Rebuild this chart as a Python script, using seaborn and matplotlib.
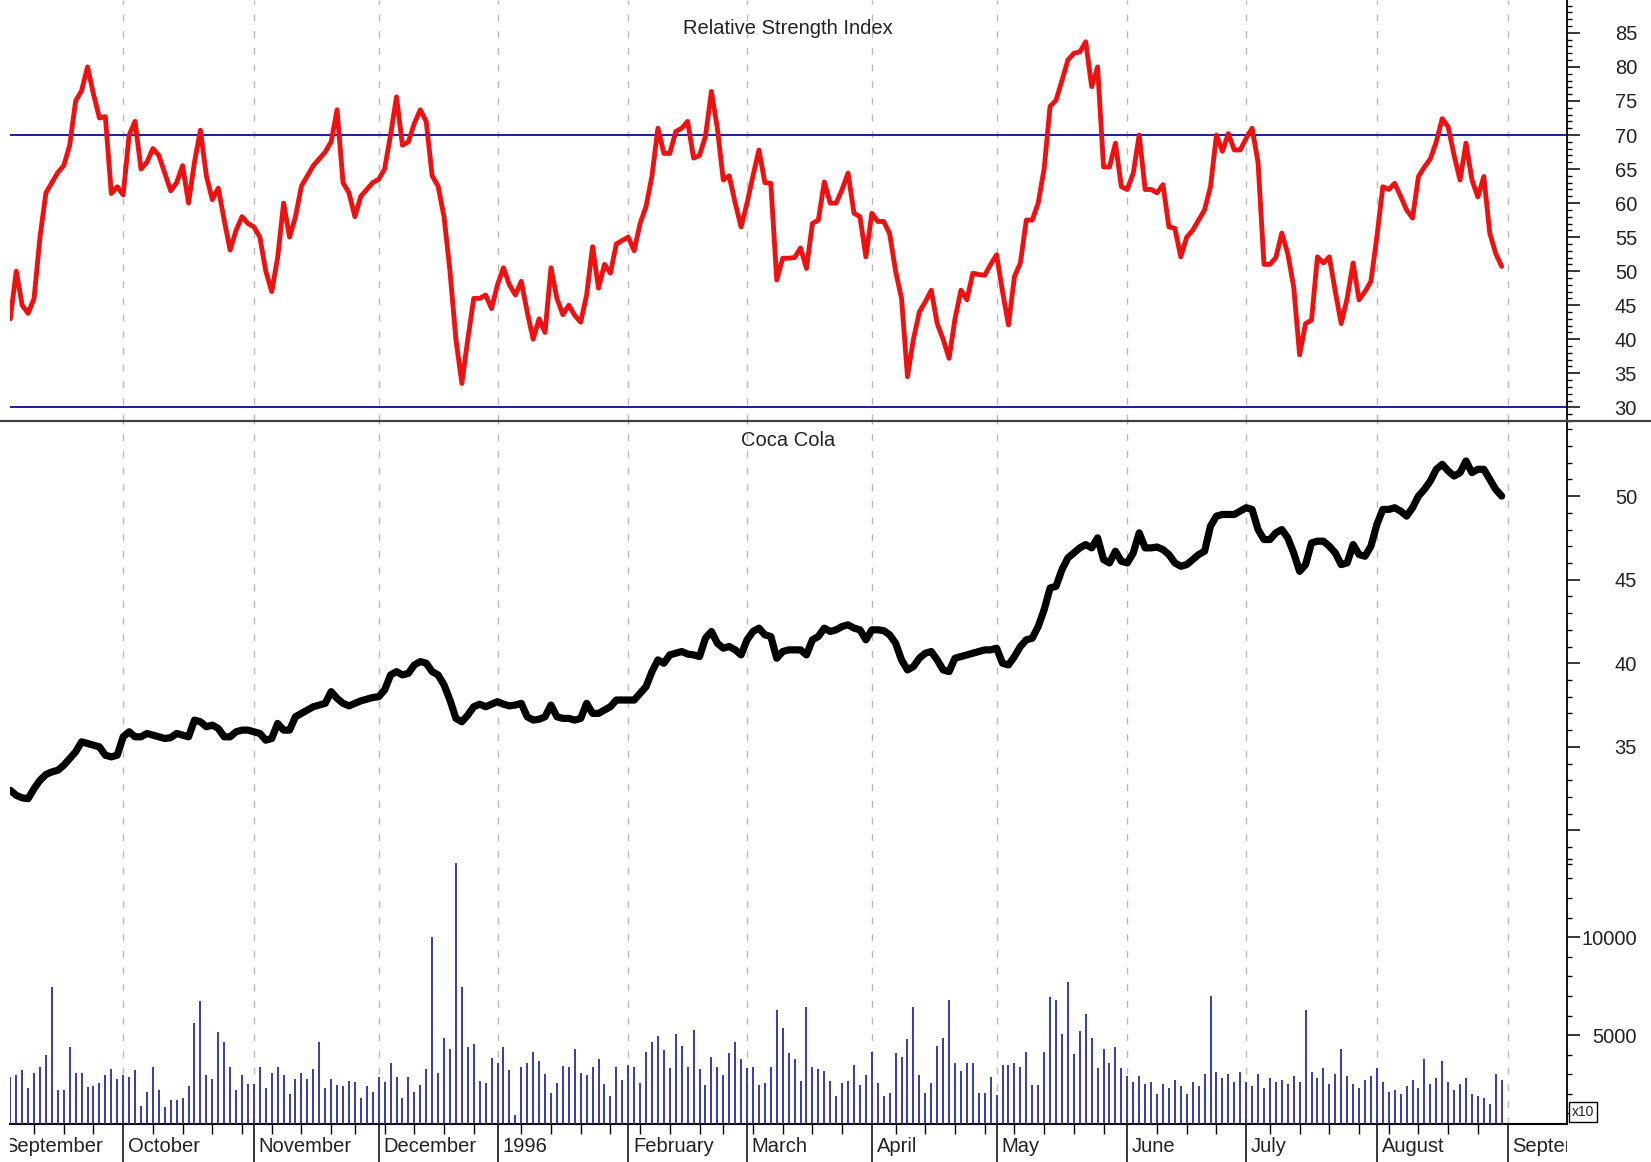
import numpy as np
import pandas as pd
import matplotlib
matplotlib.use("Agg")
import matplotlib.pyplot as plt
import seaborn as sns
from matplotlib.ticker import FixedLocator, FixedFormatter, NullFormatter
from matplotlib.lines import Line2D
from matplotlib.transforms import blended_transform_factory, Bbox, TransformedBbox

sns.set_theme(style="white")
plt.rcParams["font.family"] = ["Liberation Sans", "DejaVu Sans"]

# ---------------- data ----------------
holidays = ["1995-09-04", "1995-11-23", "1995-12-25", "1996-01-01",
            "1996-02-19", "1996-04-05", "1996-05-27", "1996-07-04"]
dates = pd.bdate_range("1995-09-05", "1996-08-30", freq="C", holidays=holidays)

month_labels = ["September", "October", "November", "December", "1996", "February",
                "March", "April", "May", "June", "July", "August", "September"]

rsi = [43, 50, 45, 43.8, 46, 55, 61.5, 63, 64.5, 65.5, 68.5, 75, 76.5, 80, 76, 72.5, 72.7, 61.4, 62.4, 61.2,
       70, 72, 65, 66, 68, 67, 64.4, 61.8, 63, 65.5, 60, 66, 70.7, 64, 60.5, 62.2, 57.5, 53.1, 56, 58,
       57, 56.5, 55, 50, 47, 52, 60, 55, 58, 62.5, 64, 65.5, 66.5, 67.5, 69, 73.7, 63, 61.5, 58, 61,
       62, 63, 63.5, 65, 70, 75.6, 68.5, 69, 71.7, 73.7, 72, 64, 62.5, 58, 50, 40, 33.5, 40, 46, 46,
       46.5, 44.5, 48, 50.5, 48, 46.5, 48.5, 44, 40, 43, 41, 50.5, 46, 43.6, 45, 43.5, 42.5, 46.5, 53.6, 47.5,
       51, 49.7, 54, 54.5, 55, 53, 57, 59.5, 64, 71, 67.3, 67.3, 70.5, 71, 72, 66.6, 67, 69.8, 76.4, 71,
       63.4, 64, 60, 56.5, 60, 64, 67.8, 63, 62.9, 48.7, 51.9, 51.9, 52, 53.4, 50.4, 57, 57.5, 63.1, 60, 60,
       62, 64.4, 58.5, 58, 52.1, 58.5, 57.3, 57.3, 55.5, 50, 46, 34.5, 40, 44, 45.5, 47.2, 42.3, 40, 37.2, 43,
       47.2, 45.8, 49.7, 49.5, 49.4, 51, 52.4, 47, 42.1, 49.2, 51.2, 57.5, 57.5, 60, 65, 74.2, 75.1, 78, 81, 82,
       82.2, 83.7, 77.1, 80, 65.3, 65.3, 68.8, 62.4, 62, 64.4, 70, 62, 62, 61.5, 62.7, 56.5, 56.3, 52.1, 55, 56,
       57.5, 59, 62.4, 70, 67.6, 70.2, 67.8, 67.8, 69.5, 71, 66, 51, 51, 52, 55.6, 52.6, 47.7, 37.7, 42.3, 42.8,
       52.1, 51.2, 52.1, 47, 42.3, 46, 51.2, 45.8, 47, 48.5, 55, 62.4, 62, 62.9, 61, 59, 57.8, 63.9, 65.3, 66.5,
       69, 72.4, 71.2, 67, 63.4, 68.8, 63.4, 60.9, 63.9, 55.6, 52.6, 50.7]

price = [32.4, 32.1, 31.95, 31.9, 32.5, 33.0, 33.35, 33.5, 33.6, 33.9, 34.3, 34.7, 35.3, 35.2, 35.1, 35.0, 34.5, 34.4, 34.5, 35.6,
         35.9, 35.6, 35.6, 35.8, 35.7, 35.6, 35.5, 35.55, 35.8, 35.7, 35.6, 36.6, 36.5, 36.2, 36.3, 36.1, 35.6, 35.6, 35.9, 36.0,
         36.0, 35.9, 35.8, 35.4, 35.5, 36.4, 36.0, 36.0, 36.8, 37.0, 37.2, 37.4, 37.5, 37.6, 38.3, 37.9, 37.6, 37.45, 37.6, 37.75,
         37.85, 37.95, 38.0, 38.4, 39.3, 39.5, 39.3, 39.4, 39.9, 40.1, 40.0, 39.5, 39.3, 38.7, 37.8, 36.7, 36.5, 36.9, 37.4, 37.55,
         37.4, 37.55, 37.7, 37.55, 37.45, 37.5, 37.6, 36.8, 36.6, 36.65, 36.8, 37.5, 36.8, 36.7, 36.7, 36.6, 36.7, 37.6, 37.0, 37.0,
         37.2, 37.4, 37.8, 37.8, 37.8, 37.8, 38.2, 38.6, 39.5, 40.2, 40.0, 40.5, 40.6, 40.7, 40.55, 40.5, 40.4, 41.5, 41.9, 41.2,
         40.9, 41.0, 40.8, 40.5, 41.4, 41.9, 42.1, 41.7, 41.6, 40.3, 40.7, 40.8, 40.8, 40.8, 40.5, 41.4, 41.6, 42.1, 41.9, 42.0,
         42.2, 42.3, 42.1, 42.0, 41.4, 42.0, 42.0, 41.95, 41.7, 41.2, 40.2, 39.6, 39.8, 40.3, 40.6, 40.7, 40.2, 39.6, 39.5, 40.3,
         40.4, 40.5, 40.6, 40.7, 40.8, 40.8, 40.9, 40.0, 39.9, 40.4, 41.0, 41.4, 41.5, 42.2, 43.2, 44.5, 44.6, 45.6, 46.3, 46.6,
         46.9, 47.1, 46.9, 47.5, 46.2, 46.0, 46.7, 46.1, 46.0, 46.6, 47.8, 46.9, 46.9, 46.95, 46.8, 46.5, 46.0, 45.8, 45.9, 46.2,
         46.5, 46.7, 48.2, 48.8, 48.9, 48.9, 48.9, 49.1, 49.3, 49.2, 48.0, 47.4, 47.4, 47.8, 48.0, 47.5, 46.6, 45.5, 45.9, 47.2,
         47.3, 47.3, 47.0, 46.6, 45.9, 46.0, 47.1, 46.5, 46.4, 47.0, 48.3, 49.2, 49.2, 49.3, 49.1, 48.8, 49.3, 50.0, 50.4, 50.9,
         51.6, 51.9, 51.5, 51.2, 51.4, 52.1, 51.4, 51.6, 51.6, 51.0, 50.4, 50.0]

volume = [2877, 2962, 3218, 2281, 3081, 3388, 3984, 7439, 2196, 2196, 4409, 3081, 3081, 2367, 2400, 2571, 2962, 3286, 2775, 2962,
          2843, 3218, 1396, 2111, 3388, 2196, 1311, 1685, 1685, 1805, 2400, 5601, 6759, 2962, 2775, 5176, 4665, 3388, 2196, 2962,
          2503, 2503, 3388, 2281, 3081, 3388, 2962, 1992, 2775, 3081, 2775, 3286, 4665, 2281, 2775, 2469, 2400, 2673, 2605, 1805,
          2400, 2111, 2843, 2605, 3592, 2843, 1805, 2877, 2111, 2469, 3286, 10027, 3081, 4835, 4273, 13807, 7439, 4376, 4545, 2673,
          2571, 3848, 3592, 4376, 3218, 902, 3388, 3592, 4154, 3694, 3000, 2026, 2571, 3421, 3354, 4273, 3081, 2962, 3388, 3762,
          2503, 1890, 3388, 2707, 3456, 3388, 2571, 4154, 4665, 4954, 4239, 3303, 5056, 4443, 3354, 5260, 3252, 2452, 3865, 3388,
          2962, 4069, 4665, 3762, 3303, 3388, 2452, 2571, 3354, 6282, 5346, 4069, 3762, 2673, 6452, 3388, 3252, 3184, 2673, 1890,
          2571, 2673, 3456, 2452, 2962, 4154, 2571, 1890, 2060, 4069, 3865, 4784, 6452, 2962, 2060, 2571, 4443, 4835, 6793, 3558,
          3184, 3558, 3558, 2060, 2060, 2843, 1941, 3456, 3456, 3558, 3354, 4154, 2452, 2452, 4154, 6963, 6793, 5056, 7712, 4035,
          5226, 6060, 4835, 3303, 4300, 3600, 4400, 3300, 2900, 2600, 2900, 2500, 2600, 2000, 2500, 2300, 2700, 2400, 2000, 2600,
          2400, 3000, 7000, 3100, 2800, 3000, 2600, 3100, 2600, 2400, 3000, 2300, 2800, 2600, 2700, 2500, 2900, 2600, 6300, 3100,
          2800, 3300, 2500, 3000, 4300, 2900, 2500, 2300, 2700, 2900, 3300, 2600, 2100, 2200, 2000, 2400, 2700, 2300, 3800, 2500,
          2800, 3700, 2600, 2200, 2500, 2800, 2000, 1900, 1800, 1500, 3000, 2700]

n = len(dates)
df = pd.DataFrame({"idx": np.arange(n), "rsi": rsi[:n], "price": price[:n], "volume": volume[:n]})

months = dates.to_period("M")
month_starts = [i for i in range(n) if i == 0 or months[i] != months[i - 1]][1:] + [n]
week_starts = [i for i in range(1, n) if dates[i].weekday() < dates[i - 1].weekday()]
week_minor = [w for w in week_starts if w not in month_starts]
label_pos = [-1.8] + month_starts

# ---------------- layout ----------------
W, H = 1651, 1162
fig = plt.figure(figsize=(W / 100, H / 100), dpi=100)
fig.patch.set_facecolor("white")
L, R = 10.3, 1567.0
y_sep, y_bot = 421.0, 1123.5

def fx(p):
    return p / W

def fy(p):
    return 1 - p / H

ax1 = fig.add_axes([fx(L), fy(y_sep), fx(R - L), y_sep / H])
ax2 = fig.add_axes([fx(L), fy(y_bot), fx(R - L), (y_bot - y_sep) / H], sharex=ax1)
ax3 = ax2.twinx()

for a in (ax1, ax2, ax3):
    a.set_facecolor("none")
    for s in a.spines.values():
        s.set_visible(False)

ax1.set_xlim(0.0, 262.0)
ax1.set_ylim(27.99, 89.83)
ax2.set_ylim(12.47, 54.49)
ax3.set_ylim(485, 36364)

grid_kw = dict(color="#b8b8b8", lw=1.0, ls=(0, (5, 7)), zorder=0)
for m in month_starts:
    ax1.axvline(m, **grid_kw)
    ax2.axvline(m, **grid_kw)

# RSI panel
ax1.axhline(70, color="#1c1c9e", lw=1.4, zorder=1)
ax1.axhline(30, color="#1c1c9e", lw=1.4, zorder=1)
sns.lineplot(data=df, x="idx", y="rsi", ax=ax1, color="#ee1111", linewidth=3.5,
             legend=False, sort=False, zorder=3)

# Price panel
sns.lineplot(data=df, x="idx", y="price", ax=ax2, color="black", linewidth=5.2,
             legend=False, sort=False, zorder=3)
ax3.vlines(df["idx"], 0, df["volume"], color="#2a2aa6", lw=1.3, zorder=2)

for a in (ax1, ax2, ax3):
    a.set_xlabel("")
    a.set_ylabel("")

FS = 14.5
lab_kw = dict(fontsize=FS, color="#222222")

# y ticks on the right
def right_axis(a, majors, labels, minors):
    a.yaxis.tick_right()
    a.yaxis.set_major_locator(FixedLocator(majors))
    a.yaxis.set_major_formatter(FixedFormatter(labels))
    a.yaxis.set_minor_locator(FixedLocator(minors))
    a.yaxis.set_minor_formatter(NullFormatter())
    a.tick_params(axis="y", which="major", direction="out", length=9.4, width=1.1,
                  color="black", pad=41, labelsize=FS, labelcolor="#222222", right=True, left=False)
    a.tick_params(axis="y", which="minor", direction="out", length=3.6, width=1.0,
                  color="black", right=True, left=False)
    for t in a.get_yticklabels():
        t.set_horizontalalignment("right")

rsi_major = [30, 35, 40, 45, 50, 55, 60, 65, 70, 75, 80, 85]
right_axis(ax1, rsi_major, [str(v) for v in rsi_major],
           [v for v in range(28, 90) if v % 5 != 0])
right_axis(ax2, [30, 35, 40, 45, 50], ["", "35", "40", "45", "50"],
           [v for v in range(28, 55) if v % 5 != 0])
right_axis(ax3, [5000, 10000], ["5000", "10000"],
           [v for v in range(1000, 15000, 1000) if v % 5000 != 0])

for a in (ax1, ax2):
    a.spines["right"].set_visible(True)
    a.spines["right"].set_color("black")
    a.spines["right"].set_linewidth(1.3)
ax2.spines["bottom"].set_visible(True)
ax2.spines["bottom"].set_color("black")
ax2.spines["bottom"].set_linewidth(1.5)

# x ticks
ax1.tick_params(axis="x", which="both", bottom=False, labelbottom=False)
ax3.tick_params(axis="x", which="both", bottom=False, top=False, labelbottom=False)
ax2.xaxis.set_major_locator(FixedLocator(month_starts))
ax2.xaxis.set_major_formatter(NullFormatter())
ax2.xaxis.set_minor_locator(FixedLocator(week_minor))
ax2.xaxis.set_minor_formatter(NullFormatter())
ax2.tick_params(axis="x", which="major", direction="out", length=28, width=1.1,
                color="black", bottom=True)
ax2.tick_params(axis="x", which="minor", direction="out", length=7, width=1.0,
                color="black", bottom=True)

# month labels, clipped to the horizontal extent of the plot like the original
tr = blended_transform_factory(ax2.transData, fig.transFigure)
clip = TransformedBbox(Bbox([[0.0, -0.3], [1.0, 1.0]]), ax2.transAxes)
for pos, name in zip(label_pos, month_labels):
    t = ax2.text(pos + 0.8, fy(1147), name, transform=tr, ha="left", va="center", **lab_kw)
    t.set_clip_box(clip)
    t.set_clip_on(True)

# titles
fig.text(fx(788), fy(29), "Relative Strength Index", ha="center", va="center", **lab_kw)
fig.text(fx(788), fy(440), "Coca Cola", ha="center", va="center", **lab_kw)

# panel separator
fig.add_artist(Line2D([0, 1], [fy(y_sep), fy(y_sep)], transform=fig.transFigure,
                      color="#404040", lw=1.6))

# x10 box
fig.text(fx(1583), fy(1112), "x10", ha="center", va="center", fontsize=10, color="#222222",
         bbox=dict(boxstyle="square,pad=0.2", fc="white", ec="black", lw=1.0))

fig.savefig("out.png", dpi=100, facecolor="white")
